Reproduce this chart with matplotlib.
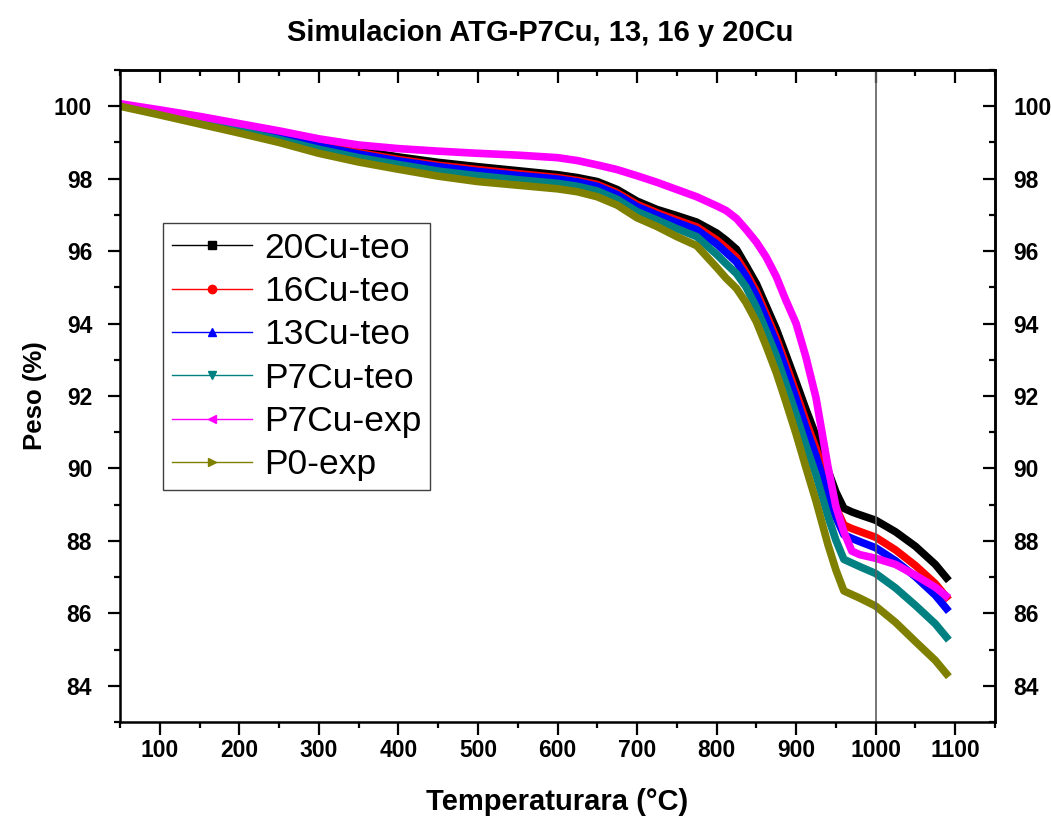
import numpy as np
import matplotlib
matplotlib.use("Agg")
import matplotlib.pyplot as plt
from matplotlib.lines import Line2D
from matplotlib.ticker import MultipleLocator

plt.rcParams['font.family'] = ['Liberation Sans', 'DejaVu Sans']

# temperatura (°C)
temp = [50, 100, 150, 200, 250, 300, 350, 400, 450, 500, 550, 600, 625, 650, 675,
        700, 725, 750, 775, 800, 812, 825, 837, 850, 862, 875, 887, 900, 912, 925,
        940, 950, 960, 970, 980, 1000, 1025, 1050, 1075, 1092]

# peso (%) de cada muestra
cu20_teo = [100.05, 99.86, 99.66, 99.45, 99.22, 98.99, 98.78, 98.60, 98.45, 98.33,
            98.22, 98.11, 98.03, 97.92, 97.70, 97.38, 97.15, 96.98, 96.80, 96.50,
            96.30, 96.05, 95.60, 95.10, 94.50, 93.85, 93.15, 92.38, 91.65, 90.90,
            89.95, 89.35, 88.90, 88.80, 88.72, 88.57, 88.25, 87.85, 87.35, 86.90]
cu16_teo = [100.04, 99.84, 99.63, 99.41, 99.18, 98.93, 98.72, 98.53, 98.37, 98.25,
            98.14, 98.03, 97.95, 97.84, 97.61, 97.29, 97.06, 96.86, 96.67, 96.31,
            96.09, 95.83, 95.41, 94.89, 94.28, 93.61, 92.89, 92.09, 91.33, 90.55,
            89.54, 88.92, 88.44, 88.34, 88.26, 88.10, 87.75, 87.32, 86.82, 86.37]
cu13_teo = [100.03, 99.83, 99.61, 99.39, 99.15, 98.90, 98.68, 98.49, 98.33, 98.20,
            98.09, 97.99, 97.91, 97.79, 97.56, 97.23, 97.00, 96.79, 96.59, 96.20,
            95.96, 95.70, 95.30, 94.76, 94.15, 93.47, 92.73, 91.92, 91.14, 90.34,
            89.29, 88.66, 88.17, 88.07, 87.98, 87.81, 87.45, 87.01, 86.50, 86.05]
p7cu_teo = [100.02, 99.80, 99.57, 99.33, 99.08, 98.81, 98.58, 98.39, 98.21, 98.08,
            97.97, 97.87, 97.79, 97.66, 97.43, 97.09, 96.86, 96.62, 96.40, 95.91,
            95.65, 95.38, 95.01, 94.45, 93.82, 93.11, 92.34, 91.49, 90.66, 89.82,
            88.68, 88.02, 87.49, 87.39, 87.29, 87.10, 86.70, 86.22, 85.71, 85.26]
p7cu_exp = [100.07, 99.90, 99.72, 99.52, 99.32, 99.10, 98.93, 98.83, 98.76, 98.70,
            98.65, 98.58, 98.50, 98.38, 98.25, 98.08, 97.90, 97.70, 97.50, 97.25,
            97.12, 96.90, 96.60, 96.25, 95.85, 95.30, 94.65, 94.00, 93.10, 91.95,
            90.05, 88.95, 88.25, 87.72, 87.62, 87.52, 87.35, 87.05, 86.72, 86.42]
p0_exp = [100.00, 99.76, 99.51, 99.26, 99.00, 98.70, 98.46, 98.26, 98.07, 97.92,
          97.82, 97.72, 97.64, 97.50, 97.27, 96.92, 96.68, 96.40, 96.15, 95.55,
          95.25, 94.97, 94.58, 94.05, 93.40, 92.65, 91.85, 90.95, 90.05, 89.10,
          87.90, 87.20, 86.62, 86.52, 86.42, 86.20, 85.75, 85.22, 84.70, 84.25]

labels = ['20Cu-teo', '16Cu-teo', '13Cu-teo', 'P7Cu-teo', 'P7Cu-exp', 'P0-exp']
colors = ['black', '#FF0000', '#0000FF', '#008080', '#FF00FF', '#808000']
markers = ['s', 'o', '^', 'v', '<', '>']
series = [cu20_teo, cu16_teo, cu13_teo, p7cu_teo, p7cu_exp, p0_exp]

fig = plt.figure(figsize=(10.51, 8.16), dpi=100)
ax = fig.add_axes([0.1142, 0.1152, 0.8325, 0.799])

for y, c in zip(series, colors):
    ax.plot(temp, y, color=c, lw=5.5, solid_joinstyle='round', solid_capstyle='butt')

ax.axvline(1000, color='#606060', lw=1.2)

ax.set_xlim(50, 1150)
ax.set_ylim(83, 101)
ax.xaxis.set_major_locator(MultipleLocator(100))
ax.xaxis.set_minor_locator(MultipleLocator(50))
ax.yaxis.set_major_locator(MultipleLocator(2))
ax.yaxis.set_minor_locator(MultipleLocator(1))

for s in ax.spines.values():
    s.set_linewidth(1.8)

ax.tick_params(which='major', direction='out', length=9, width=1.6, labelsize=16.5, pad=3)
ax.tick_params(which='minor', direction='out', length=4.5, width=1.6)
ax.tick_params(axis='y', pad=11)
for lab in ax.get_xticklabels() + ax.get_yticklabels():
    lab.set_fontweight('bold')

# ejes espejo: arriba sin etiquetas, derecha con etiquetas
top = ax.secondary_xaxis('top')
top.xaxis.set_major_locator(MultipleLocator(100))
top.xaxis.set_minor_locator(MultipleLocator(50))
top.tick_params(which='major', direction='in', length=9, width=1.6, labeltop=False)
top.tick_params(which='minor', direction='in', length=4.5, width=1.6)
top.spines['top'].set_linewidth(1.8)

right = ax.secondary_yaxis('right')
right.yaxis.set_major_locator(MultipleLocator(2))
right.yaxis.set_minor_locator(MultipleLocator(1))
right.tick_params(which='major', direction='in', length=9, width=1.6, labelsize=16.5, pad=13)
right.tick_params(which='minor', direction='in', length=4.5, width=1.6)
right.spines['right'].set_linewidth(1.8)
for lab in right.get_yticklabels():
    lab.set_fontweight('bold')

ax.set_xlabel('Temperaturara (°C)', fontsize=21, fontweight='bold')
ax.xaxis.set_label_coords(0.5, -0.101)
ax.set_ylabel('Peso (%)', fontsize=18.5, fontweight='bold')
ax.yaxis.set_label_coords(-0.084, 0.5)
ax.set_title('Simulacion ATG-P7Cu, 13, 16 y 20Cu', fontsize=21, fontweight='bold',
             pad=21, x=0.48)

handles = [Line2D([], [], color=c, lw=1, marker=m, markersize=6)
           for c, m in zip(colors, markers)]
leg = ax.legend(handles, labels, loc='upper left', bbox_to_anchor=(0.155, 0.7267),
                bbox_transform=fig.transFigure, fontsize=25.5, frameon=True,
                fancybox=False, framealpha=1, edgecolor='#404040',
                handlelength=2.26, handletextpad=0.34, labelspacing=0.29,
                borderpad=0.25, borderaxespad=0)
leg.get_frame().set_linewidth(1.0)

fig.savefig('out.png', dpi=100)
